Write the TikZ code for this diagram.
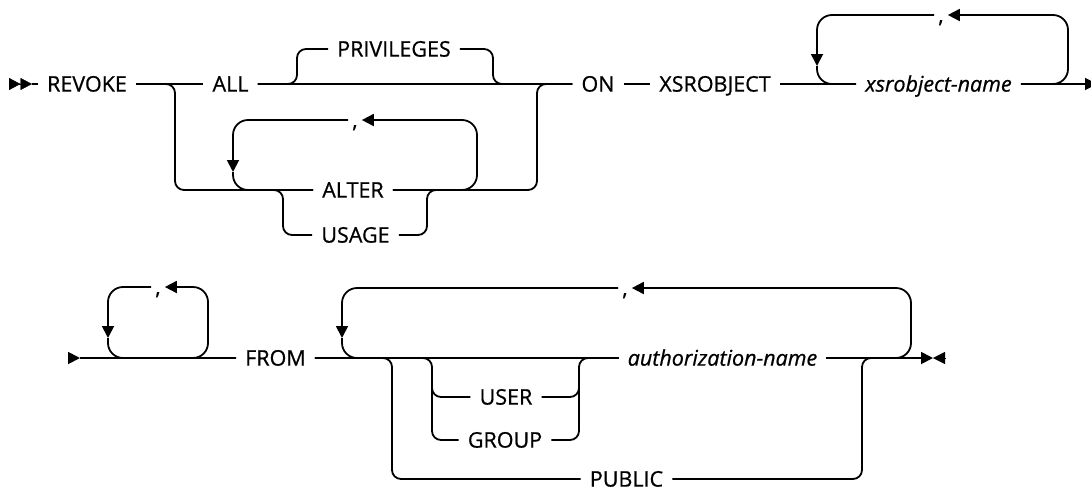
\documentclass[tikz,border=0pt]{standalone}
\usepackage{fontspec}
\setmainfont{Open Sans}[FakeBold=0.7]
\usetikzlibrary{arrows.meta}

\tikzset{
  kw/.style={font=\fontsize{21.5}{25}\selectfont, inner xsep=9pt, inner ysep=0pt, text height=15.2pt, text depth=0pt},
  var/.style={kw, font=\fontsize{21.5}{25}\selectfont\itshape},
  commabox/.style={kw, inner xsep=4pt},
  rail/.style={line width=1.8pt, rounded corners=9pt},
  backline/.style={line width=1.8pt, rounded corners=15pt},
  railtip/.style={-{Triangle[length=12pt,width=12pt]}},
  endtips/.style={-{Triangle[length=11.5pt,width=12pt]Triangle[length=11.5pt,width=12pt]}}
}

\begin{document}
\begin{tikzpicture}[x=1pt,y=-1pt]
\useasboundingbox (0,0) rectangle (1091,490);
\node (revoke) at (87,84) [kw] {REVOKE};
\node (all) at (230.5,84) [kw] {ALL};
\node (priv) at (394,49) [kw] {PRIVILEGES};
\node (alter) at (353,190) [kw] {ALTER};
\node (usage) at (355.5,235) [kw] {USAGE};
\node (c2) at (355,120) [commabox] {,};
\node (on) at (598,84) [kw] {ON};
\node (xsr) at (715,84) [kw] {XSROBJECT};
\node (xname) at (938.5,84) [var] {xsrobject-name};
\node (c1) at (941,15) [commabox] {,};
\node (from) at (275.5,358) [kw] {FROM};
\node (authname) at (722.5,358) [var] {authorization-name};
\node (c3) at (158,287) [commabox] {,};
\node (c4) at (625,288) [commabox] {,};
\node (user) at (506,397) [kw] {USER};
\node (group) at (505,440) [kw] {GROUP};
\node (public) at (626.5,479) [kw] {PUBLIC};

\coordinate (s1) at (9,84);
\coordinate (s1b) at (32,84);
\coordinate (e1) at (1097,84);
\coordinate (ja) at (175,84);
\coordinate (jb) at (537,84);
\coordinate (jp1) at (297,84);
\coordinate (jp2) at (493,84);
\coordinate (ua) at (265,190);
\coordinate (jc) at (283,190);
\coordinate (jd) at (427,190);
\coordinate (ud) at (445,190);
\coordinate (lr2) at (477,190);
\coordinate (la2) at (233,172);
\coordinate (lx2) at (1068,84);
\coordinate (la1) at (817,66);
\coordinate (s2) at (68,358);
\coordinate (s2b) at (80,358);
\coordinate (lr3) at (208,358);
\coordinate (la3) at (108,338);
\coordinate (lr4) at (911,358);
\coordinate (la4) at (342,338);
\coordinate (jq1) at (392,358);
\coordinate (jq2) at (862,358);
\coordinate (ju1) at (432,358);
\coordinate (ju2) at (579,358);
\coordinate (ug1) at (432,378);
\coordinate (ug2) at (579,378);
\coordinate (fin) at (933,358);
\coordinate (fin2) at (945,358);

\draw [endtips] (s1) -- (s1b);
\draw [rail] (s1b) -- (revoke) -- (all) -- (on) -- (xsr) -- (xname);
\draw [rail, railtip] (xname) -- (e1);
\draw [rail] (revoke) -- (ja) |- (alter) -| (jb) -- (on);
\draw [rail] (all) -- (jp1) |- (priv) -| (jp2) -- (on);
\draw [rail] (ua) -- (jc) |- (usage) -| (jd) -- (ud);
\draw [backline, railtip] (alter) -| (c2 -| lr2) -- (c2);
\draw [backline, railtip] (c2) -| (la2);
\draw [backline] (la2) |- (alter);
\draw [backline, railtip] (xname) -| (c1 -| lx2) -- (c1);
\draw [backline, railtip] (c1) -| (la1);
\draw [backline] (la1) |- (xname);

\draw [rail, railtip] (s2) -- (s2b);
\draw [rail] (s2b) -- (from) -- (authname);
\draw [rail, railtip] (authname) -- (fin);
\draw [railtip] (fin2) -- (fin);
\draw [backline, railtip] (s2b) -| (c3 -| lr3) -- (c3);
\draw [backline, railtip] (c3) -| (la3);
\draw [backline] (la3) |- (from);
\draw [backline, railtip] (authname) -| (c4 -| lr4) -- (c4);
\draw [backline, railtip] (c4) -| (la4);
\draw [backline] (la4) |- (authname);
\draw [rail] (from) -- (jq1) |- (public) -| (jq2) -- (lr4);
\draw [rail] (from) -- (ju1) |- (user) -| (ju2) -- (authname);
\draw [rail] (ug1) |- (group) -| (ug2);
\end{tikzpicture}
\end{document}
